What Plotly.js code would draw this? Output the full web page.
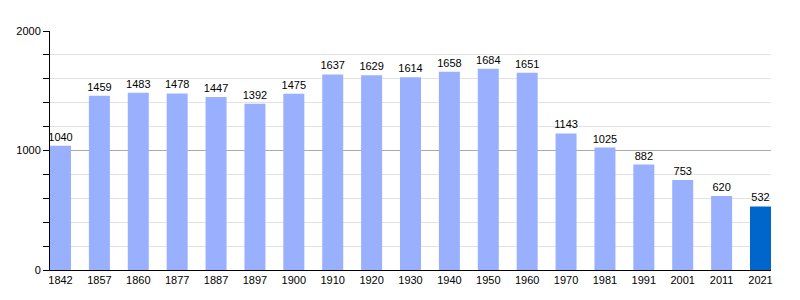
<!DOCTYPE html>
<html><head><meta charset="utf-8">
<script src="https://cdn.plot.ly/plotly-3.0.1.min.js"></script>
<style>body{margin:0}#chart{width:800px;height:300px}</style>
</head><body><div id="chart"></div>
<script>
const years = ["1842","1857","1860","1877","1887","1897","1900","1910","1920","1930","1940","1950","1960","1970","1981","1991","2001","2011","2021"];
const population = [1040,1459,1483,1478,1447,1392,1475,1637,1629,1614,1658,1684,1651,1143,1025,882,753,620,532];
const colors = years.map((y,i)=> i===years.length-1 ? '#0066cc' : '#99b0ff');
const trace = {
  type:'bar', x:years, y:population,
  marker:{color:colors},
  width:0.54,
  text:population.map(String), textposition:'outside', cliponaxis:false,
  textfont:{family:'Liberation Sans, Arial, sans-serif', size:11, color:'#000'},
  hoverinfo:'none'
};
const layout = {
  width:800, height:300,
  margin:{l:50, r:29, t:31, b:30},
  paper_bgcolor:'#fff', plot_bgcolor:'#fff',
  showlegend:false,
  uniformtext:{mode:'show', minsize:11},
  font:{family:'Liberation Sans, Arial, sans-serif', size:11, color:'#000'},
  xaxis:{type:'category', range:[-0.27, 18.27], showgrid:false, showline:true, linecolor:'#000', linewidth:1, ticks:'', tickfont:{size:11}},
  yaxis:{range:[0,2000], dtick:1000, showgrid:true, gridcolor:'#aaaaaa', gridwidth:1, zeroline:false,
    showline:true, linecolor:'#000', linewidth:1, ticks:'outside', ticklen:6, tickcolor:'#000', tickfont:{size:11},
    minor:{dtick:200, showgrid:true, gridcolor:'#e2e2e2', gridwidth:1, ticks:'outside', ticklen:6, tickcolor:'#000'}},
  bargap:0.46
};
Plotly.newPlot('chart',[trace],layout,{displayModeBar:false, staticPlot:true});
</script></body></html>
